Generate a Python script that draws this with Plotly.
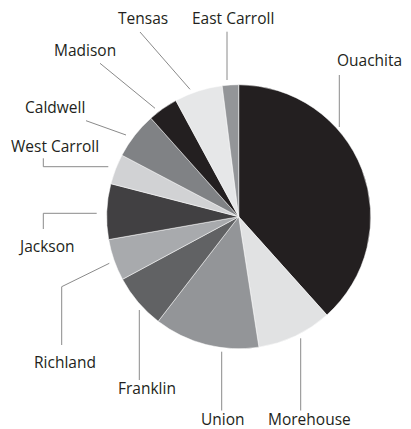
import plotly.graph_objects as go

# ---- data ----
parishes = ["Ouachita", "Morehouse", "Union", "Franklin", "Richland", "Jackson",
            "West Carroll", "Caldwell", "Madison", "Tensas", "East Carroll"]
shares = [38.4, 9.2, 12.9, 6.7, 5.1, 6.8, 3.7, 5.7, 3.7, 5.9, 2.0]
slice_colors = ["#231f20", "#e1e2e3", "#939598", "#616264", "#a8aaad", "#414042",
                "#d1d2d4", "#808285", "#231f20", "#e6e7e8", "#939598"]

# ---- layout (pixel positions of labels and leader lines) ----
W, H = 411, 429
label_pos = {
    "Ouachita": (369, 59.5), "East Carroll": (233, 17.5), "Tensas": (142.5, 18),
    "Madison": (85, 50.3), "Caldwell": (54.5, 106.7), "West Carroll": (55, 146),
    "Jackson": (46, 246), "Richland": (64.7, 361.7), "Franklin": (147.2, 388.3),
    "Union": (223, 418.5), "Morehouse": (309, 418.5),
}
leaders = {
    "Ouachita": [(339.3, 75), (339.3, 127)],
    "East Carroll": [(227, 31.7), (227, 80)],
    "Tensas": [(140, 32), (190, 89.3)],
    "Madison": [(100, 63.3), (155, 108.3)],
    "Caldwell": [(86, 120.7), (126, 135)],
    "West Carroll": [(43.3, 158.3), (43.3, 166.7), (108.3, 166.7)],
    "Jackson": [(96.7, 213.3), (43.3, 213.3), (43.3, 229)],
    "Richland": [(109.3, 263.3), (61.7, 286.7), (61.7, 345)],
    "Franklin": [(139.3, 310), (139.3, 380)],
    "Union": [(221.7, 351.7), (221.7, 410.5)],
    "Morehouse": [(300.7, 338.3), (300.7, 410.5)],
}
cx, cy, r = 238.7, 216.7, 132


def px(x):
    return x / W


def py(y):
    return 1 - y / H


fig = go.Figure(go.Pie(
    labels=parishes, values=shares, sort=False, direction="clockwise", rotation=0,
    marker=dict(colors=slice_colors, line=dict(color="white", width=0.5)),
    textinfo="none", hoverinfo="label+percent", showlegend=False,
    domain=dict(x=[px(cx - r), px(cx + r)], y=[py(cy + r), py(cy - r)]),
))

shapes = []
for name, pts in leaders.items():
    path = "M " + " L ".join(f"{px(x)},{py(y)}" for x, y in pts)
    shapes.append(dict(type="path", xref="paper", yref="paper", path=path,
                       line=dict(color="#8a8a8a", width=1)))

annotations = []
for name, (x, y) in label_pos.items():
    annotations.append(dict(text=name, x=px(x), y=py(y), xref="paper", yref="paper",
                            xanchor="center", yanchor="middle", showarrow=False,
                            font=dict(family="Open Sans", size=15.5, color="#231f20")))

fig.update_layout(
    width=W, height=H, margin=dict(l=0, r=0, t=0, b=0),
    paper_bgcolor="white", plot_bgcolor="white",
    shapes=shapes, annotations=annotations,
)
fig.write_html("out.html", config={"displayModeBar": False},
               post_script="document.body.style.margin='0';document.body.style.overflow='hidden';")
